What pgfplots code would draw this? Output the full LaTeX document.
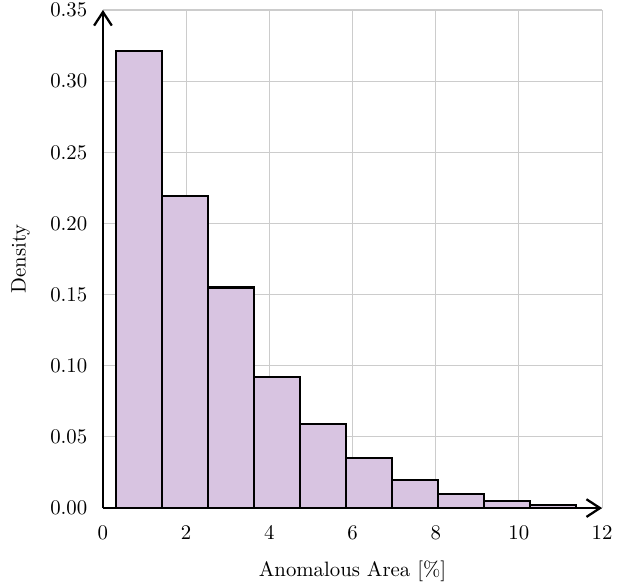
\documentclass[border=0pt]{standalone}
\usepackage{pgfplots}
\pgfplotsset{compat=1.18}
\usetikzlibrary{arrows.meta}
\definecolor{barcol}{RGB}{216,196,225}
\begin{document}
\begin{tikzpicture}
\begin{axis}[
  scale only axis,
  width=240pt, height=239.5pt,
  xmin=0, xmax=12, ymin=0, ymax=0.35,
  axis lines=left,
  axis line style={line width=1.1pt, -{Straight Barb[length=6.5pt,width=8.5pt,line width=1.1pt]}},
  grid=major,
  grid style={line width=0.5pt, black!20},
  xtick={0,2,...,12},
  ytick={0,0.05,0.10,0.15,0.20,0.25,0.30,0.35},
  major tick length=0pt,
  yticklabel style={xshift=-4pt, /pgf/number format/fixed, /pgf/number format/fixed zerofill, /pgf/number format/precision=2},
  xticklabel style={yshift=-5.2pt},
  xlabel={Anomalous Area [\%]},
  ylabel={Density},
  xlabel style={yshift=-3.5pt},
  ylabel style={yshift=3pt},
]
\addplot[ybar interval, fill=barcol, draw=black, line width=1pt] coordinates {
(0.313,0.3215) (1.419,0.2195) (2.526,0.1550) (3.632,0.0920) (4.738,0.0590)
(5.845,0.0350) (6.951,0.0197) (8.057,0.0098) (9.163,0.0049) (10.270,0.0022) (11.376,0)};
\coordinate (SW) at (rel axis cs:0,0);
\coordinate (NE) at (rel axis cs:1,1);
\end{axis}
\pgfresetboundingbox
\path ([shift={(-49.5pt,-37.5pt)}]SW) rectangle ([shift={(11.5pt,4.8pt)}]NE);
\end{tikzpicture}
\end{document}
